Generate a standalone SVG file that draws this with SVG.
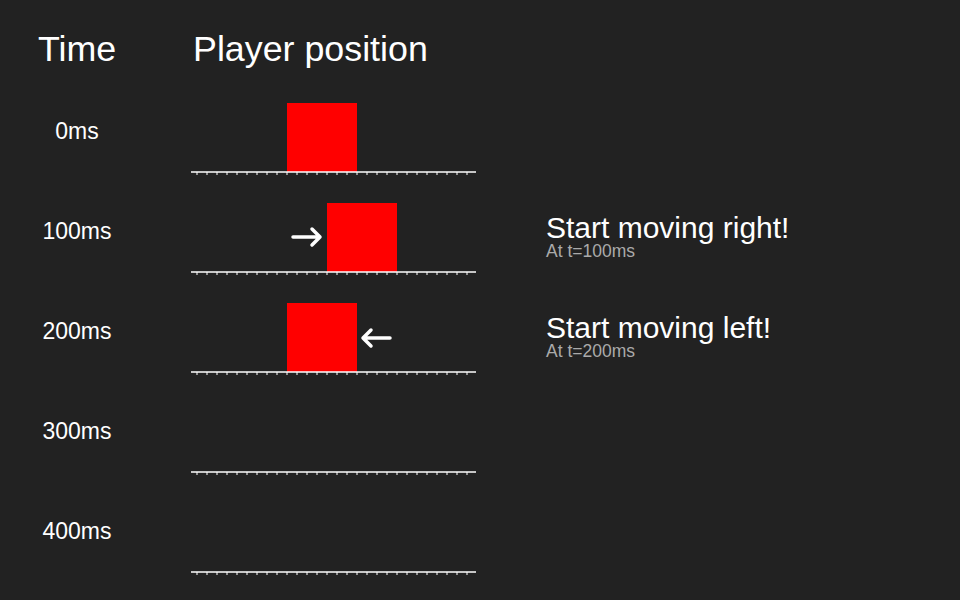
<svg xmlns="http://www.w3.org/2000/svg" width="960" height="600" viewBox="0 0 960 600">
<defs>
<style>
text{font-family:"Liberation Sans",Arial,sans-serif;fill:#fff}
.h{font-size:35.8px}
.t{font-size:23px;text-anchor:middle}
.m{font-size:30px}
.s{font-size:17.5px;fill:#aaa}
.axis{stroke:#fff;stroke-width:1.5}
.tick{stroke:#fff;stroke-width:1}
.p{fill:#f00}
.arr{fill:none;stroke:#fff;stroke-width:3.5;stroke-linecap:round;stroke-linejoin:round}
</style>
<g id="axisTpl">
<line class="axis" x1="191" y1="0" x2="476" y2="0"/>
<path class="tick" d="M197 0v3M207 0v3M217 0v3M227 0v3M237 0v3M247 0v3M257 0v3M267 0v3M277 0v3M287 0v3M297 0v3M307 0v3M317 0v3M327 0v3M337 0v3M347 0v3M357 0v3M367 0v3M377 0v3M387 0v3M397 0v3M407 0v3M417 0v3M427 0v3M437 0v3M447 0v3M457 0v3M467 0v3"/>
</g>
</defs>
<rect width="960" height="600" fill="#222"/>
<text class="h" x="38" y="61">Time</text>
<text class="h" x="193" y="61">Player position</text>

<g id="row0">
<text class="t" x="77" y="139">0ms</text>
<rect class="p" x="287" y="103" width="70" height="69"/>
<use href="#axisTpl" y="172"/>
</g>
<g id="row100">
<text class="t" x="77" y="239">100ms</text>
<rect class="p" x="327" y="203" width="70" height="69"/>
<use href="#axisTpl" y="272"/>
<path class="arr" d="M293 237H320M312 229L320 237L312 245"/>
<text class="m" x="546" y="238">Start moving right!</text>
<text class="s" x="546" y="257">At t=100ms</text>
</g>
<g id="row200">
<text class="t" x="77" y="339">200ms</text>
<rect class="p" x="287" y="303" width="70" height="69"/>
<use href="#axisTpl" y="372"/>
<path class="arr" d="M390 338H363M371 330L363 338L371 346"/>
<text class="m" x="546" y="338">Start moving left!</text>
<text class="s" x="546" y="357">At t=200ms</text>
</g>
<g id="row300">
<text class="t" x="77" y="439">300ms</text>
<use href="#axisTpl" y="472"/>
</g>
<g id="row400">
<text class="t" x="77" y="539">400ms</text>
<use href="#axisTpl" y="572"/>
</g>
</svg>
